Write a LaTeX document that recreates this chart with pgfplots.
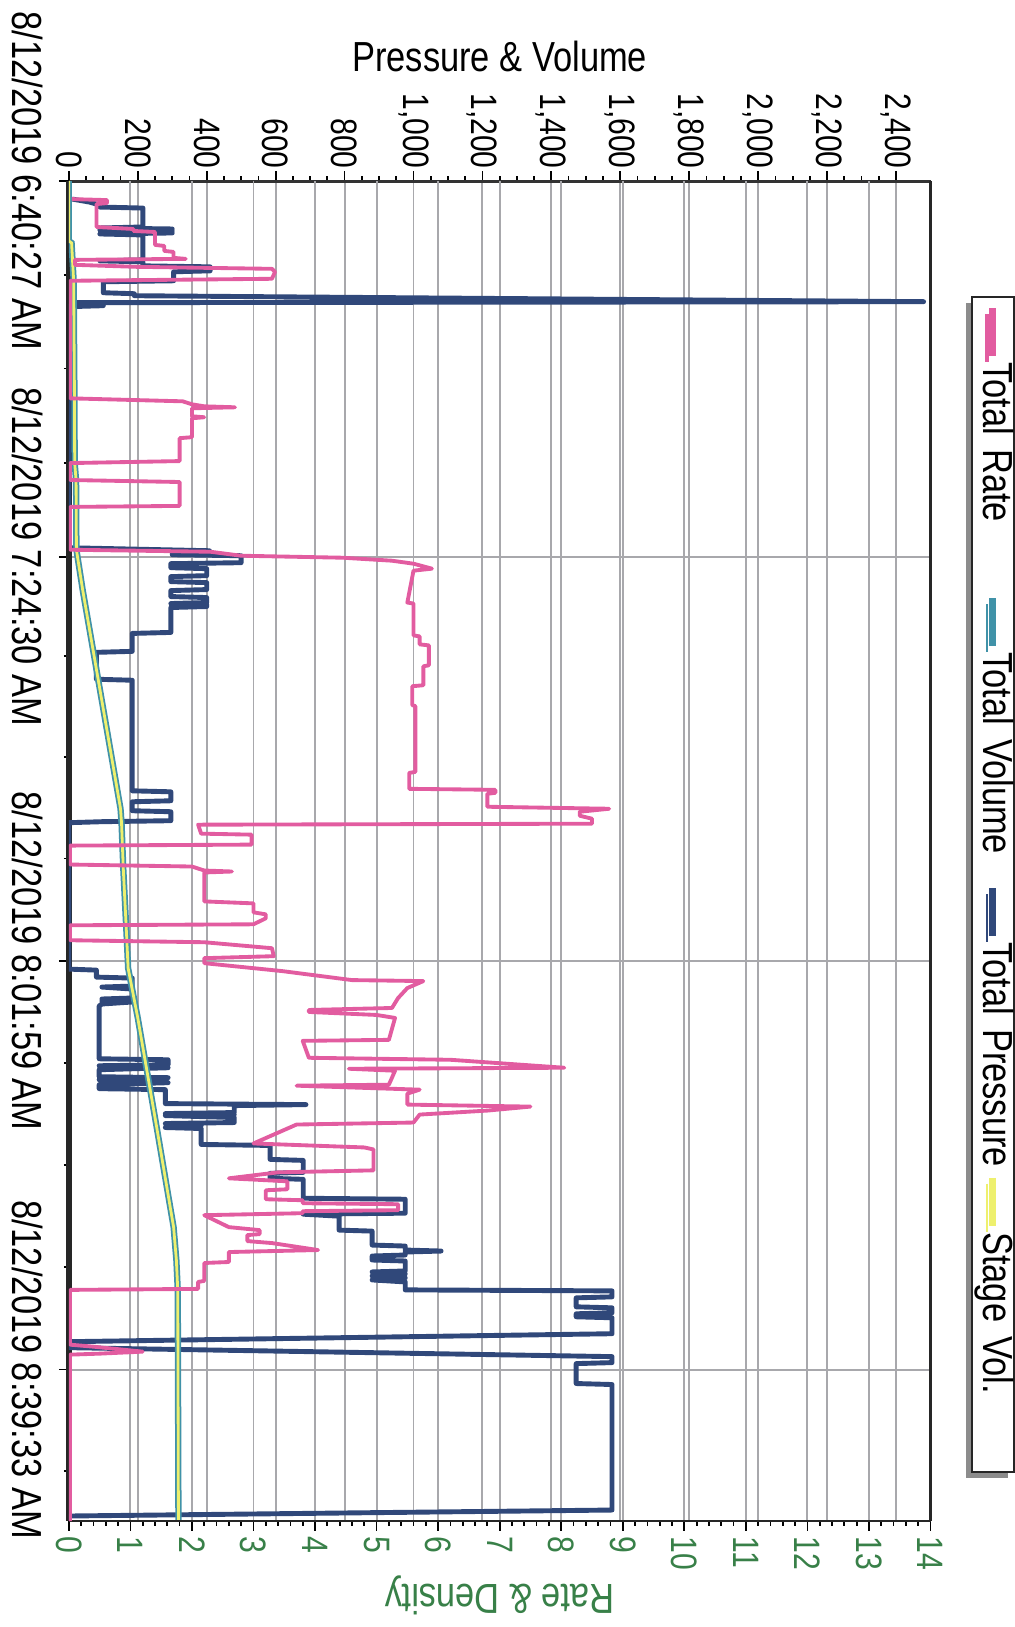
\documentclass[border=0pt]{standalone}
\usepackage{fontspec}
\setmainfont{Liberation Sans}[FakeStretch=0.82]
\usepackage{pgfplots}
\usepackage{pgfplotstable}
\pgfplotsset{compat=1.18}
\usetikzlibrary{shadows}

\definecolor{raterose}{RGB}{226,92,160}
\definecolor{volteal}{RGB}{64,146,168}
\definecolor{pressnavy}{RGB}{48,72,122}
\definecolor{stageyel}{RGB}{238,240,110}
\definecolor{axisgreen}{RGB}{56,128,72}
\definecolor{gridgray}{RGB}{168,168,172}

% t = position along the time axis (category index scale), P = psi
\pgfplotstableread{
t P
18 10
21 60
24 90
26 90
27 215
46 215
47 90
48 300
49 90
50 300
51 215
52 300
53 90
54 215
79 215
80 90
81 215
85 215
86 410
90 410
91 304
100 304
101 100
112 100
113 190
115 190
121 2480
122 20
123 100
124 15
125 100
126 0
368 0
371 408
373 408
374 300
375 300
376 500
383 500
384 296
388 296
389 400
396 400
397 296
402 296
403 400
410 400
411 296
417 296
418 400
423 400
424 296
425 400
427 400
428 296
453 296
454 184
472 184
473 80
500 80
501 184
612 184
613 296
622 296
623 184
632 184
633 296
642 296
643 96
644 0
791 0
792 80
799 80
800 184
808 184
809 96
811 184
820 184
821 96
822 184
823 96
824 184
826 96
828 88
881 88
882 288
887 288
888 88
890 288
892 88
899 88
900 288
902 88
905 288
907 88
911 88
912 280
926 280
927 688
928 480
935 480
936 280
937 480
938 280
940 480
945 480
946 280
948 384
950 280
951 384
967 384
968 584
982 584
983 680
995 680
996 584
1001 584
1002 680
1021 680
1022 976
1036 976
1037 680
1039 784
1053 784
1054 880
1068 880
1069 976
1073 976
1074 1080
1075 976
1078 976
1079 880
1083 880
1084 976
1094 976
1095 880
1097 976
1099 880
1101 976
1103 880
1105 976
1113 976
1114 1576
1120 1576
1121 1472
1130 1472
1131 1576
1136 1576
1137 1472
1140 1472
1141 1576
1157 1576
1165 0
1171 0
1180 1576
1186 1576
1187 1472
1207 1472
1208 1576
1334 1576
1340 0
1345 0
}\pressdata

% rate in bpm
\pgfplotstableread{
t R
18 0.05
19 0.62
22 0.62
23 0.45
46 0.45
48 1.05
50 1.05
51 1.4
64 1.4
65 1.55
70 1.55
71 1.7
77 1.7
78 1.9
79 0.1
84 0.1
86 1.1
88 3.3
91 3.35
98 3.3
100 0.02
218 0.02
221 1.85
224 2.0
226 2.2
227 2.7
228 2.0
236 2.0
237 2.2
238 2.0
257 2.0
258 1.8
281 1.8
283 0.02
300 0.02
302 1.8
326 1.8
327 0.02
370 0.02
372 2.3
376 2.8
378 4.45
381 5.25
384 5.6
389 5.9
391 5.6
423 5.5
424 5.6
456 5.6
457 5.7
465 5.7
466 5.85
486 5.85
487 5.76
506 5.76
507 5.58
526 5.58
527 5.63
593 5.63
594 5.53
610 5.53
611 6.93
614 6.93
615 6.8
628 6.8
630 8.78
633 8.3
637 8.3
640 8.5
645 8.5
646 2.1
655 2.15
656 2.97
666 2.97
667 0.02
686 0.02
688 2.0
692 2.2
693 2.65
694 2.2
723 2.2
725 3.0
734 3.0
736 3.2
740 3.2
746 3.0
747 0.02
762 0.02
764 2.2
770 3.3
778 3.33
780 2.2
785 2.2
793 3.47
802 4.6
803 5.76
810 5.5
820 5.35
830 5.25
832 3.9
834 3.9
837 5.0
840 5.3
862 5.2
863 3.8
880 3.9
882 6.2
890 8.05
891 4.55
893 5.3
907 5.2
908 3.7
912 5.7
916 5.5
927 5.5
929 7.5
933 6.8
937 5.7
945 5.6
947 3.7
966 3.0
970 4.8
972 4.95
993 4.95
995 3.4
1001 2.6
1004 3.55
1012 3.55
1013 3.2
1022 3.2
1023 3.8
1026 3.8
1027 5.35
1033 5.35
1034 3.8
1036 3.8
1038 2.2
1050 2.6
1053 3.1
1057 3.1
1058 2.9
1064 2.9
1066 3.3
1073 4.05
1075 2.6
1085 2.6
1086 2.2
1104 2.2
1105 2.1
1112 2.1
1113 0.02
1168 0.02
1170 0.4
1175 1.2
1177 0.5
1178 0.02
1345 0.02
}\ratedata

% stage volume (bbl), total volume follows the same trace
\pgfplotstableread{
t V
0 0
60 0
62 8
100 14
200 16
283 17
300 21
370 22
410 40
520 95
630 150
645 153
690 158
760 168
790 172
840 200
950 255
1050 304
1083 312
1113 316
1345 318
}\voldata

\begin{document}
\begin{tikzpicture}[rotate=-90, transform shape]
\begin{axis}[
  scale only axis,
  width=13.45cm, height=8.65cm,
  xmin=0, xmax=1345, ymin=0, ymax=2500,
  axis x line*=bottom, axis y line*=left,
  x axis line style={line width=1.7pt, black!85, -},
  y axis line style={line width=0.8pt, black!80, -},
  xtick={0,377,783,1193},
  xticklabels={8/12/2019 6:40:27 AM, 8/12/2019 7:24:30 AM, 8/12/2019 8:01:59 AM, 8/12/2019 8:39:33 AM},
  minor xtick={94,188,283,477,578,680,885,988,1090,1295},
  xticklabel style={font=\fontsize{12}{14}\selectfont, yshift=-0.04cm},
  ytick={0,200,...,2400},
  minor y tick num=3,
  yticklabel style={font=\fontsize{10.5}{12}\selectfont, inner sep=0.5pt},
  /pgf/number format/assume math mode=true,
  /pgf/number format/1000 sep={,},
  extra y ticks={178.571,357.143,535.714,714.286,892.857,1071.429,1250,1428.571,1607.143,1785.714,1964.286,2142.857,2321.429},
  extra y tick labels={,,,,,,,,,,,,},
  extra y tick style={major tick length=0pt},
  xmajorgrids, ymajorgrids,
  grid style={gridgray, line width=0.55pt},
  tick align=outside,
  major tick length=0.1cm, minor tick length=0.05cm,
  tick style={black, line width=0.5pt},
  ylabel={Pressure \& Volume},
  ylabel style={at={(axis description cs:-0.0929,0.5)}, anchor=center, font=\fontsize{12}{14}\selectfont},
]
\addplot[pressnavy, line width=1.4pt, line join=round] table[x=t, y=P] {\pressdata};
\addplot[volteal, line width=1.8pt] table[x=t, y=V] {\voldata};
\addplot[stageyel, line width=0.8pt] table[x=t, y=V] {\voldata};
\end{axis}

\begin{axis}[
  scale only axis,
  width=13.45cm, height=8.65cm,
  xmin=0, xmax=1345, ymin=0, ymax=14,
  axis x line*=top, axis y line*=right,
  x axis line style={line width=0.8pt, black!85, -},
  y axis line style={line width=0.8pt, black!85, -},
  xtick=\empty,
  ytick={0,1,...,14},
  minor y tick num=4,
  tick align=outside,
  major tick length=0.1cm, minor tick length=0.05cm,
  tick style={black, line width=0.5pt},
  /pgf/number format/assume math mode=true,
  yticklabel style={font=\fontsize{10.5}{12}\selectfont, text=axisgreen, inner sep=1.5pt},
  ylabel={Rate \& Density},
  ylabel style={at={(axis description cs:1.0558,0.5)}, anchor=center, rotate=180, text=axisgreen, font=\fontsize{12}{14}\selectfont},
  legend columns=4,
  legend image code/.code={\draw[#1, line width=2pt] (0cm,0cm) -- (0.48cm,0cm);},
  legend style={
    at={(axis description cs:0.0855,1.047)}, anchor=south west,
    draw=black!85, line width=0.6pt, fill=white,
    drop shadow={shadow xshift=0.06cm, shadow yshift=-0.06cm, fill=black!45, opacity=1},
    font=\fontsize{12}{14}\selectfont,
    inner xsep=0.08cm, inner ysep=0.05cm,
    nodes={inner xsep=0.03cm, inner ysep=0pt, text width=2.3cm, align=left, text height=0.26cm, text depth=0.06cm},
  },
]
\addplot[raterose, line width=1.1pt, line join=round] table[x=t, y=R] {\ratedata};
\addlegendentry{Total Rate}
\addlegendimage{volteal}
\addlegendentry{Total Volume}
\addlegendimage{pressnavy}
\addlegendentry{Total Pressure}
\addlegendimage{stageyel}
\addlegendentry{Stage Vol.}
\end{axis}
\end{tikzpicture}
\end{document}
